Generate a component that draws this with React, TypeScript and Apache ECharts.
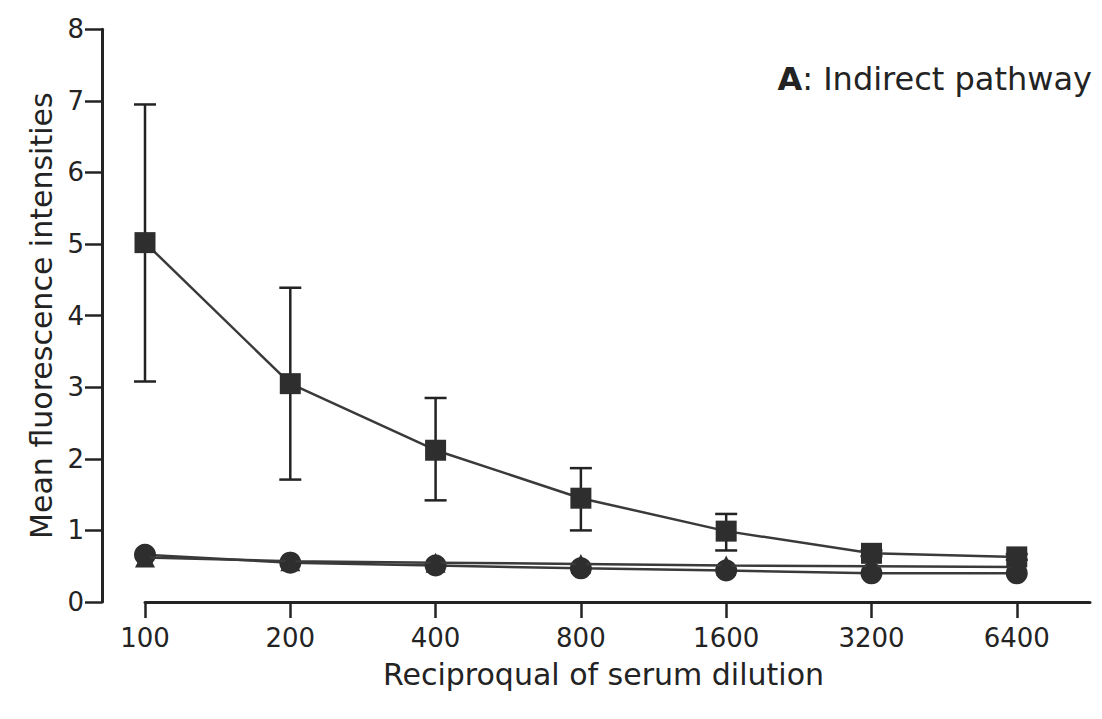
import React, { useEffect, useRef } from "react";
import * as echarts from "echarts";

const dilutions = ["100", "200", "400", "800", "1600", "3200", "6400"];
const squareMean = [5.02, 3.05, 2.12, 1.45, 0.99, 0.68, 0.63];
const squareUpper = [6.95, 4.39, 2.85, 1.87, 1.23, 0.72, 0.67];
const squareLower = [3.08, 1.71, 1.42, 1.0, 0.72, 0.64, 0.59];
const triangleMean = [0.62, 0.57, 0.55, 0.53, 0.51, 0.5, 0.49];
const circleMean = [0.66, 0.55, 0.51, 0.47, 0.44, 0.4, 0.4];

const INK = "#232323";
const FONT = "DejaVu Sans, Verdana, sans-serif";

export default function App() {
  const ref = useRef<HTMLDivElement>(null);
  useEffect(() => {
    if (!ref.current) return;
    const chart = echarts.init(ref.current, null, { renderer: "svg" });
    const idx = dilutions.map((_, i) => i);
    chart.setOption({
      animation: false,
      backgroundColor: "#ffffff",
      grid: { left: 137, right: 12, top: 21.3, bottom: 117 },
      title: {
        text: "{b|A}: Indirect pathway",
        right: 5,
        top: 50,
        textStyle: {
          fontFamily: FONT,
          fontSize: 32,
          fontWeight: "normal",
          color: INK,
          rich: { b: { fontFamily: FONT, fontSize: 32, fontWeight: "bold", color: INK } },
        },
      },
      xAxis: {
        type: "value",
        min: 0,
        max: 6.504,
        name: "Reciproqual of serum dilution",
        nameLocation: "middle",
        nameGap: 57,
        nameTextStyle: { fontFamily: FONT, fontSize: 30, color: INK, padding: [0, 28, 0, 0] },
        axisLine: { show: true, onZero: false, lineStyle: { color: INK, width: 3 } },
        axisTick: { show: true, customValues: idx, length: 16, lineStyle: { color: INK, width: 2.5 } },
        axisLabel: {
          customValues: idx,
          formatter: (v: number) => dilutions[Math.round(v)],
          fontFamily: FONT,
          fontSize: 26,
          color: INK,
          margin: 23,
        },
        splitLine: { show: false },
      },
      yAxis: {
        type: "value",
        min: 0,
        max: 8,
        interval: 1,
        offset: 43,
        name: "Mean fluorescence intensities",
        nameLocation: "middle",
        nameGap: 43,
        nameTextStyle: { fontFamily: FONT, fontSize: 30, color: INK },
        axisLine: { show: true, onZero: false, lineStyle: { color: INK, width: 3 } },
        axisTick: { show: true, length: 17, lineStyle: { color: INK, width: 2.5 } },
        axisLabel: {
          fontFamily: FONT,
          fontSize: 26,
          color: INK,
          margin: 18,
        },
        splitLine: { show: false },
      },
      series: [
        {
          type: "custom",
          name: "errors",
          renderItem: (params: any, api: any) => {
            const x = api.value(0);
            const hi = api.coord([x, api.value(1)]);
            const lo = api.coord([x, api.value(2)]);
            const w = 11;
            const style = { stroke: INK, lineWidth: 2.5 };
            return {
              type: "group",
              children: [
                { type: "line", shape: { x1: hi[0], y1: hi[1], x2: lo[0], y2: lo[1] }, style },
                { type: "line", shape: { x1: hi[0] - w, y1: hi[1], x2: hi[0] + w, y2: hi[1] }, style },
                { type: "line", shape: { x1: lo[0] - w, y1: lo[1], x2: lo[0] + w, y2: lo[1] }, style },
              ],
            };
          },
          data: idx.map((i) => [i, squareUpper[i], squareLower[i]]),
          z: 1,
        },
        {
          type: "line",
          name: "circle",
          data: idx.map((i) => [i, circleMean[i]]),
          symbol: "circle",
          symbolSize: 22,
          lineStyle: { color: "#3a3a3a", width: 2.5 },
          itemStyle: { color: "#2e2e2e" },
          z: 2,
        },
        {
          type: "line",
          name: "triangle",
          data: idx.map((i) => [i, triangleMean[i]]),
          symbol: "triangle",
          symbolSize: 20,
          lineStyle: { color: "#3a3a3a", width: 2.5 },
          itemStyle: { color: "#2e2e2e" },
          z: 3,
        },
        {
          type: "line",
          name: "square",
          data: idx.map((i) => [i, squareMean[i]]),
          symbol: "rect",
          symbolSize: 21,
          lineStyle: { color: "#3a3a3a", width: 2.5 },
          itemStyle: { color: "#2e2e2e" },
          z: 4,
        },
      ],
    });
    return () => chart.dispose();
  }, []);
  return <div ref={ref} style={{ width: 1094, height: 711 }} />;
}
